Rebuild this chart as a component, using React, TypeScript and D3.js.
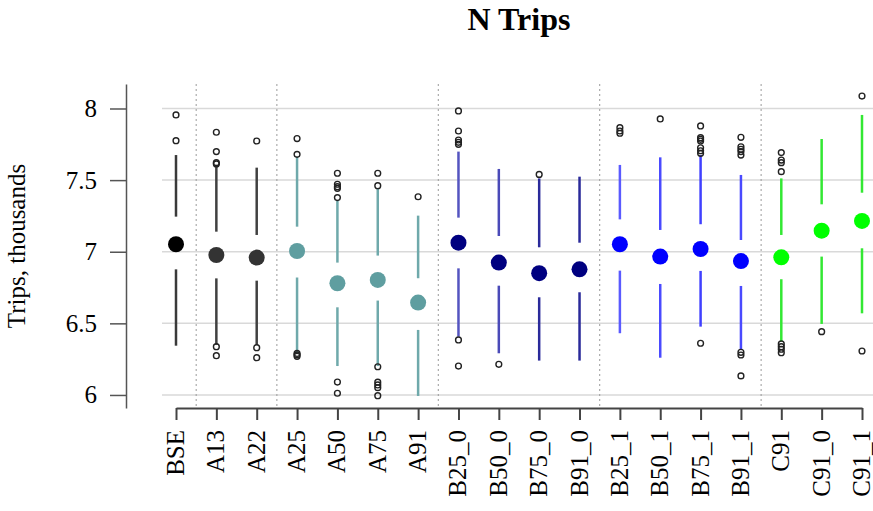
import { useEffect, useRef } from "react";
import * as d3 from "d3";

// ---- data (thousands of trips) ----
const categories = [
  "BSE", "A13", "A22", "A25", "A50", "A75", "A91",
  "B25_0", "B50_0", "B75_0", "B91_0",
  "B25_1", "B50_1", "B75_1", "B91_1",
  "C91", "C91_0", "C91_1",
];

const whiskerHigh = [7.675, 7.606, 7.587, 7.664, 7.361, 7.443, 7.252, 7.699, 7.578, 7.512, 7.524, 7.606, 7.659, 7.675, 7.536, 7.512, 7.787, 7.955];
const q3 = [7.245, 7.14, 7.117, 7.175, 6.924, 6.973, 6.815, 7.238, 7.11, 7.031, 7.063, 7.226, 7.152, 7.192, 7.082, 7.117, 7.331, 7.412];
const medians = [7.052, 6.977, 6.959, 7.005, 6.78, 6.803, 6.645, 7.063, 6.924, 6.85, 6.877, 7.052, 6.966, 7.019, 6.935, 6.961, 7.147, 7.215];
const q1 = [6.877, 6.814, 6.798, 6.82, 6.612, 6.659, 6.454, 6.884, 6.763, 6.682, 6.717, 6.868, 6.775, 6.866, 6.761, 6.808, 6.966, 7.024];
const whiskerLow = [6.344, 6.35, 6.35, 6.29, 6.202, 6.202, 5.993, 6.407, 6.291, 6.24, 6.24, 6.431, 6.26, 6.477, 6.314, 6.372, 6.496, 6.57];

const outliers: number[][] = [
  [7.955, 7.775],
  [7.834, 7.699, 7.622, 7.613, 6.337, 6.274],
  [7.773, 6.33, 6.26],
  [7.79, 7.68, 6.29, 6.28, 6.27],
  [7.548, 7.471, 7.454, 7.443, 7.378, 6.09, 6.012],
  [7.548, 7.461, 6.197, 6.089, 6.07, 6.051, 5.995],
  [7.384],
  [7.983, 7.843, 7.78, 7.764, 7.75, 6.384, 6.202],
  [6.214],
  [7.54],
  [],
  [7.866, 7.843, 7.827],
  [7.927],
  [7.878, 7.796, 7.785, 7.773, 7.726, 7.705, 7.687, 6.361],
  [7.799, 7.733, 7.715, 7.699, 7.675, 6.298, 6.279, 6.133],
  [7.692, 7.64, 7.622, 7.559, 6.356, 6.337, 6.319, 6.295],
  [6.442],
  [8.087, 6.307],
];

const yTicks = [6, 6.5, 7, 7.5, 8];
// index after which a dotted group separator is drawn
const groupBreaks = [0, 2, 6, 10, 14];

const dotColors = [
  "#000000", "#333333", "#333333",
  "#5F9EA0", "#5F9EA0", "#5F9EA0", "#5F9EA0",
  "#000080", "#000080", "#000080", "#000080",
  "#0000FF", "#0000FF", "#0000FF", "#0000FF",
  "#00FF00", "#00FF00", "#00FF00",
];
const lineColors = [
  "#3a3a3a", "#404040", "#404040",
  "#6fa9ab", "#6fa9ab", "#6fa9ab", "#6fa9ab",
  "#5454c0", "#4a4ab8", "#2a2a9a", "#2a2a9a",
  "#5a5aff", "#4a4aff", "#4040ff", "#4a4aff",
  "#33e833", "#33e833", "#33e833",
];

const FONT = "'Liberation Serif', 'Times New Roman', serif";

export default function App() {
  const svgRef = useRef<SVGSVGElement>(null);

  useEffect(() => {
    if (!svgRef.current) return;
    const width = 873;
    const height = 511;
    const plot = { left: 162, right: 873, top: 84, bottom: 408 };

    const svg = d3.select(svgRef.current).attr("width", width).attr("height", height);
    svg.selectAll("*").remove();

    const y = d3.scaleLinear().domain([5.909, 8.171]).range([plot.bottom, plot.top]);
    const x = d3.scalePoint<string>().domain(categories).range([176, 862]);

    // title
    svg
      .append("text")
      .attr("x", 519)
      .attr("y", 30)
      .attr("text-anchor", "middle")
      .style("font-family", FONT)
      .style("font-weight", "bold")
      .style("font-size", "32px")
      .text("N Trips");

    // horizontal grid
    svg
      .append("g")
      .selectAll("line")
      .data(yTicks)
      .join("line")
      .attr("x1", plot.left)
      .attr("x2", plot.right)
      .attr("y1", (d) => y(d))
      .attr("y2", (d) => y(d))
      .attr("stroke", "#d9d9d9")
      .attr("stroke-width", 1.5);

    // dotted group separators
    svg
      .append("g")
      .selectAll("line")
      .data(groupBreaks)
      .join("line")
      .attr("x1", (i) => ((x(categories[i]) ?? 0) + (x(categories[i + 1]) ?? 0)) / 2)
      .attr("x2", (i) => ((x(categories[i]) ?? 0) + (x(categories[i + 1]) ?? 0)) / 2)
      .attr("y1", plot.top)
      .attr("y2", plot.bottom)
      .attr("stroke", "#9a9a9a")
      .attr("stroke-width", 1)
      .attr("stroke-dasharray", "2,3");

    // y axis
    const yAxis = svg
      .append("g")
      .attr("transform", "translate(126,0)")
      .call(d3.axisLeft(y).tickValues(yTicks).tickSize(16).tickSizeOuter(0).tickPadding(13).tickFormat(d3.format("")));
    yAxis.select(".domain").attr("stroke", "#555").attr("stroke-width", 1.5);
    yAxis.selectAll(".tick line").attr("stroke", "#555").attr("stroke-width", 1.5);
    yAxis
      .selectAll(".tick text")
      .attr("fill", "#000")
      .style("font-family", FONT)
      .style("font-size", "25px");

    // y label
    svg
      .append("text")
      .attr("transform", "translate(25,246) rotate(-90)")
      .attr("text-anchor", "middle")
      .style("font-family", FONT)
      .style("font-size", "25px")
      .text("Trips, thousands");

    // x axis
    const xAxis = svg
      .append("g")
      .attr("transform", `translate(0,${plot.bottom})`)
      .call(d3.axisBottom(x).tickSize(12).tickSizeOuter(0));
    xAxis.select(".domain").attr("stroke", "#444").attr("stroke-width", 2);
    xAxis.selectAll(".tick line").attr("stroke", "#444").attr("stroke-width", 2);
    xAxis
      .selectAll(".tick text")
      .attr("transform", "rotate(-90)")
      .attr("x", -22)
      .attr("y", 0)
      .attr("dy", "0.3em")
      .attr("text-anchor", "end")
      .attr("fill", "#000")
      .style("font-family", FONT)
      .style("font-size", "25px");

    // whiskers (upper and lower segments, gap spans the box)
    const idx = categories.map((_, i) => i);
    const marks = svg.append("g");
    marks
      .selectAll("line.upper")
      .data(idx)
      .join("line")
      .attr("class", "upper")
      .attr("x1", (i) => x(categories[i]) ?? 0)
      .attr("x2", (i) => x(categories[i]) ?? 0)
      .attr("y1", (i) => y(whiskerHigh[i]))
      .attr("y2", (i) => y(q3[i]))
      .attr("stroke", (i) => lineColors[i])
      .attr("stroke-width", 2.5);
    marks
      .selectAll("line.lower")
      .data(idx)
      .join("line")
      .attr("class", "lower")
      .attr("x1", (i) => x(categories[i]) ?? 0)
      .attr("x2", (i) => x(categories[i]) ?? 0)
      .attr("y1", (i) => y(q1[i]))
      .attr("y2", (i) => y(whiskerLow[i]))
      .attr("stroke", (i) => lineColors[i])
      .attr("stroke-width", 2.5);

    // medians
    marks
      .selectAll("circle.med")
      .data(idx)
      .join("circle")
      .attr("class", "med")
      .attr("cx", (i) => x(categories[i]) ?? 0)
      .attr("cy", (i) => y(medians[i]))
      .attr("r", 8)
      .attr("fill", (i) => dotColors[i]);

    // outliers
    const pts = outliers.flatMap((vals, i) => vals.map((v) => ({ cat: categories[i], v })));
    marks
      .selectAll("circle.out")
      .data(pts)
      .join("circle")
      .attr("class", "out")
      .attr("cx", (d) => x(d.cat) ?? 0)
      .attr("cy", (d) => y(d.v))
      .attr("r", 2.9)
      .attr("fill", "none")
      .attr("stroke", "#222")
      .attr("stroke-width", 1.4);
  }, []);

  return (
    <svg
      ref={svgRef}
      style={{ position: "absolute", left: 0, top: 0, background: "#fff" }}
      role="img"
      aria-label="N Trips"
    />
  );
}
